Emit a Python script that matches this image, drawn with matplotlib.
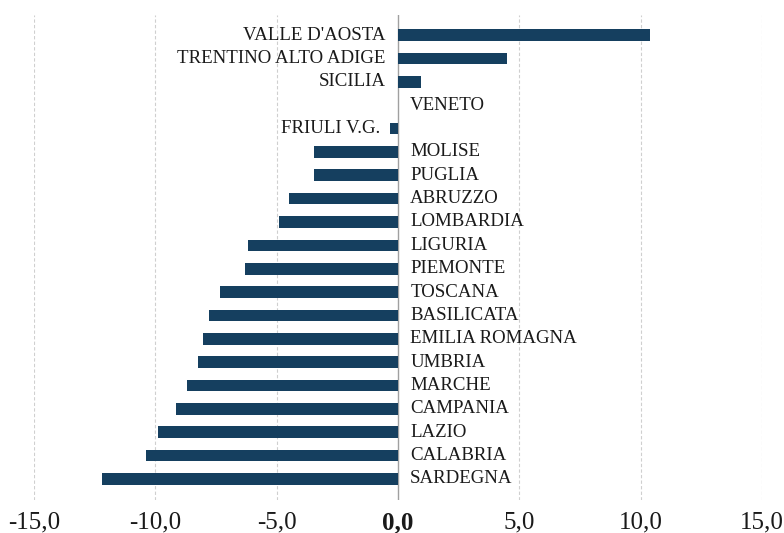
import numpy as np
import matplotlib.pyplot as plt

# data ---------------------------------------------------------------
REGIONS = [
    "VALLE D'AOSTA", "TRENTINO ALTO ADIGE", "SICILIA", "VENETO", "FRIULI V.G.",
    "MOLISE", "PUGLIA", "ABRUZZO", "LOMBARDIA", "LIGURIA", "PIEMONTE",
    "TOSCANA", "BASILICATA", "EMILIA ROMAGNA", "UMBRIA", "MARCHE",
    "CAMPANIA", "LAZIO", "CALABRIA", "SARDEGNA",
]
VALUES = [
    10.4, 4.5, 0.95, 0.0, -0.35,
    -3.45, -3.45, -4.5, -4.9, -6.2, -6.3,
    -7.35, -7.8, -8.05, -8.25, -8.7,
    -9.15, -9.9, -10.4, -12.2,
]
# where the region name sits: "L" = left of the zero line, "R" = right,
# "B" = just before the (tiny) bar
LABEL_SIDE = ["L", "L", "L", "R", "B"] + ["R"] * 15

TICKS = [-15, -10, -5, 0, 5, 10, 15]

BAR_COLOR = "#153f5f"
TEXT_COLOR = "#1a1a1a"
SERIF = "Liberation Serif"

# figure -------------------------------------------------------------
fig = plt.figure(figsize=(7.84, 5.33), dpi=100)
ax = fig.add_axes([34 / 784, 33 / 533, 728 / 784, 485 / 533])

y = np.arange(len(REGIONS))
ax.barh(y, VALUES, height=0.5, color=BAR_COLOR, zorder=2)

ax.set_xlim(-15, 15)
ax.set_ylim(len(REGIONS) - 1 + 0.9, -0.86)

# grid ---------------------------------------------------------------
for t in TICKS:
    if t == 0:
        ax.axvline(t, color="#a0a0a0", lw=1.0, zorder=1)
    else:
        ax.axvline(t, color="#cfcfcf", lw=0.8, ls=(0, (3, 2)), zorder=1)

# labels -------------------------------------------------------------
pad = 0.5
for yy, name, v, side in zip(y, REGIONS, VALUES, LABEL_SIDE):
    if side == "L":
        x, ha = -pad, "right"
    elif side == "B":
        x, ha = v - pad + 0.1, "right"
    else:
        x, ha = pad, "left"
    ax.text(x, yy, name, ha=ha, va="center", fontsize=13.6,
            family=SERIF, color=TEXT_COLOR)

ax.set_yticks([])
ax.set_xticks(TICKS)
ax.set_xticklabels([f"{t:.1f}".replace(".", ",") for t in TICKS],
                   fontsize=18, family=SERIF, color=TEXT_COLOR)
ax.get_xticklabels()[3].set_fontweight("bold")
ax.tick_params(axis="x", length=0, pad=8)
for sp in ax.spines.values():
    sp.set_visible(False)

fig.savefig("out.png", dpi=100, facecolor="white")
